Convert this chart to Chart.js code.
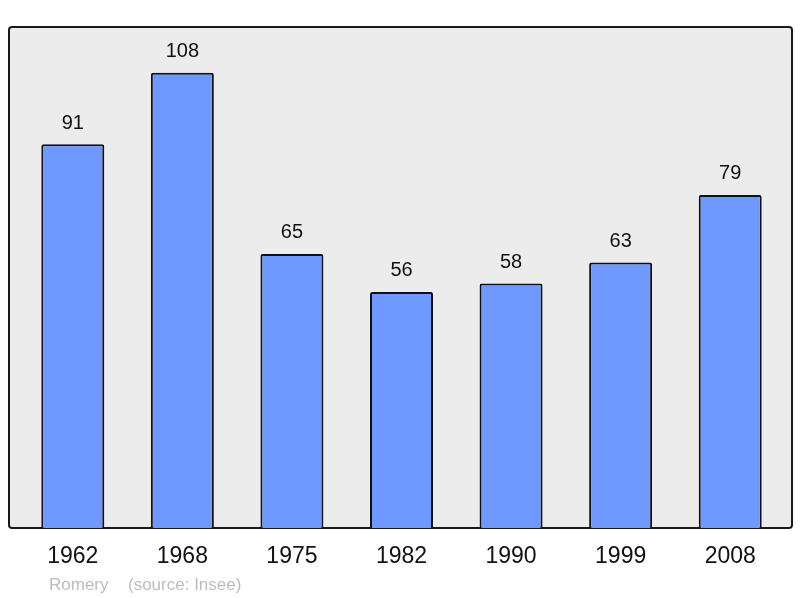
<!DOCTYPE html>
<html>
<head>
<meta charset="utf-8">
<script src="https://cdn.jsdelivr.net/npm/chart.js@4"></script>
<style>
  body { margin: 0; background: #fff; }
  canvas { display: block; }
</style>
</head>
<body>
<canvas id="c" width="800" height="598"></canvas>
<script>
const years = ['1962', '1968', '1975', '1982', '1990', '1999', '2008']
const population = [91, 108, 65, 56, 58, 63, 79]
const footerName = 'Romery'
const footerSource = '(source: Insee)'

// grey frame behind the plot
const framePlugin = {
  id: 'frame',
  beforeDraw: (chart) => {
    const { ctx, chartArea } = chart
    const x0 = chartArea.left - 9, x1 = chartArea.right + 7
    const y0 = chartArea.top - 1, y1 = chartArea.bottom
    ctx.save()
    ctx.beginPath()
    ctx.roundRect(x0, y0, x1 - x0, y1 - y0, 3)
    ctx.fillStyle = '#ececec'
    ctx.fill()
    ctx.lineWidth = 2
    ctx.strokeStyle = '#1a1a1a'
    ctx.stroke()
    ctx.restore()
  }
}

// value labels, year labels and footer
const labelPlugin = {
  id: 'labels',
  afterDatasetsDraw: (chart) => {
    const { ctx, chartArea } = chart
    const meta = chart.getDatasetMeta(0)
    const xScale = chart.scales.x
    ctx.save()
    ctx.fillStyle = '#111'
    ctx.textAlign = 'center'
    ctx.textBaseline = 'middle'
    ctx.font = '20px "Liberation Sans", Arial, sans-serif'
    meta.data.forEach((bar, i) => {
      ctx.fillText(String(population[i]), bar.x, bar.y - 21)
    })
    ctx.font = '23px "Liberation Sans", Arial, sans-serif'
    years.forEach((y, i) => {
      ctx.fillText(y, xScale.getPixelForValue(i), chartArea.bottom + 29)
    })
    ctx.textAlign = 'left'
    ctx.fillStyle = '#bdbdbd'
    ctx.font = '17px "Liberation Sans", Arial, sans-serif'
    ctx.fillText(footerName, 49, chartArea.bottom + 57)
    ctx.fillText(footerSource, 128, chartArea.bottom + 57)
    ctx.restore()
  }
}

new Chart(document.getElementById('c').getContext('2d'), {
  type: 'bar',
  data: {
    labels: years,
    datasets: [{
      data: population,
      backgroundColor: '#7099ff',
      borderColor: '#111',
      borderWidth: 2,
      borderSkipped: 'bottom',
      borderRadius: 2,
      categoryPercentage: 1,
      barPercentage: 0.575
    }]
  },
  options: {
    responsive: false,
    animation: false,
    layout: { padding: { left: 18, right: 15, top: 28, bottom: 70 } },
    plugins: { legend: { display: false }, tooltip: { enabled: false } },
    scales: {
      x: { display: false },
      y: { display: false, min: 0, max: 118.6 }
    }
  },
  plugins: [framePlugin, labelPlugin]
})
</script>
</body>
</html>
